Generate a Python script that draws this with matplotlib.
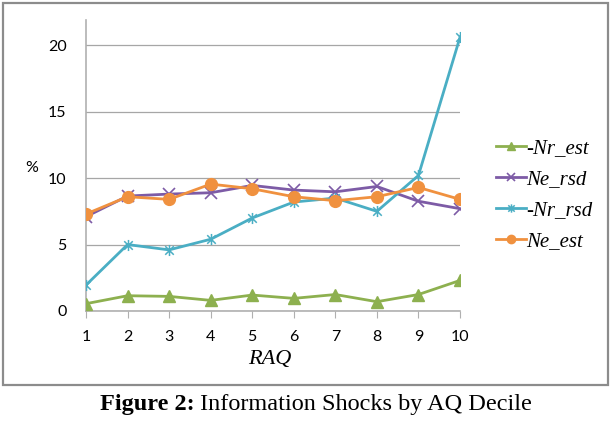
import matplotlib.pyplot as plt
from matplotlib.path import Path
from matplotlib.patches import Rectangle

deciles = [1, 2, 3, 4, 5, 6, 7, 8, 9, 10]
nr_est = [0.55, 1.15, 1.1, 0.8, 1.2, 0.95, 1.24, 0.7, 1.24, 2.3]
ne_rsd = [7.1, 8.65, 8.8, 8.9, 9.45, 9.1, 8.97, 9.37, 8.26, 7.7]
nr_rsd = [1.95, 5.0, 4.6, 5.4, 7.0, 8.2, 8.5, 7.5, 10.2, 20.6]
ne_est = [7.3, 8.6, 8.4, 9.55, 9.2, 8.6, 8.3, 8.6, 9.3, 8.4]
yticks = [0, 5, 10, 15, 20]

# excel style asterisk: an x plus a vertical bar
asterisk = Path([(-1, -1), (1, 1), (-1, 1), (1, -1), (0, -1.3), (0, 1.3)],
                [Path.MOVETO, Path.LINETO, Path.MOVETO, Path.LINETO, Path.MOVETO, Path.LINETO])

fig = plt.figure(figsize=(6.13, 4.23), dpi=100)
fig.patches.append(Rectangle((3 / 613, 1 - 385 / 423), 605 / 613, 382 / 423,
                             transform=fig.transFigure, fill=False,
                             edgecolor='#8c8c8c', linewidth=1.6))

ax = fig.add_axes([86 / 613, 1 - 311 / 423, 374 / 613, 291 / 423])
ax.plot(deciles, nr_est, color='#8db04f', lw=2, marker='^', ms=8, label='-Nr_est', zorder=3)
ax.plot(deciles, ne_rsd, color='#7d5ba6', lw=2, marker='x', ms=8, mew=1.2, label='Ne_rsd', zorder=3)
ax.plot(deciles, nr_rsd, color='#4aaec4', lw=2, marker=asterisk, ms=8, mew=1.1, label='-Nr_rsd', zorder=3)
ax.plot(deciles, ne_est, color='#f0913f', lw=2, marker='o', ms=8.5, label='Ne_est', zorder=4)

ax.set_xlim(1, 10)
ax.set_ylim(0, 21.9)
ax.set_xticks(deciles)
ax.set_yticks(yticks)
ax.grid(axis='y', color='#a6a6a6', lw=0.9)
ax.set_axisbelow(True)
for side in ['top', 'right']:
    ax.spines[side].set_visible(False)
for side in ['left', 'bottom']:
    ax.spines[side].set_color('#b0b0b0')
    ax.spines[side].set_linewidth(1.2)
ax.tick_params(axis='y', length=0, pad=14, labelsize=11.5)
ax.tick_params(axis='x', length=5, color='#b0b0b0', pad=9, labelsize=11.5)
for lab in ax.get_xticklabels() + ax.get_yticklabels():
    lab.set_family('Lato')

fig.text(32 / 613, 1 - 168 / 423, '%', ha='center', va='center', fontsize=11.5, family='Lato')
fig.text(270 / 613, 1 - 359 / 423, 'RAQ', ha='center', va='center', fontsize=16,
         family='Liberation Serif', style='italic')

leg = ax.legend(loc='center left', bbox_to_anchor=(488 / 613, 1 - 195 / 423),
                bbox_transform=fig.transFigure, frameon=False,
                prop={'family': 'Liberation Serif', 'style': 'italic', 'size': 15},
                handlelength=1.4, handletextpad=0.05, labelspacing=0.55, borderaxespad=0)
for h in leg.legend_handles:
    h.set_markersize(6)

# caption: bold "Figure 2:" followed by regular text, centred as one line
cap1 = fig.text(0, 1 - 404 / 423, 'Figure 2:', fontweight='bold', va='center', fontsize=17.5,
                family='Liberation Serif')
cap2 = fig.text(0, 1 - 404 / 423, ' Information Shocks by AQ Decile', va='center', fontsize=17.5,
                family='Liberation Serif')
fig.canvas.draw()
r = fig.canvas.get_renderer()
w1 = cap1.get_window_extent(r).width
w2 = cap2.get_window_extent(r).width
x0 = 316 - (w1 + w2) / 2
cap1.set_x(x0 / 613)
cap2.set_x((x0 + w1) / 613)

fig.savefig('out.png', dpi=100)
